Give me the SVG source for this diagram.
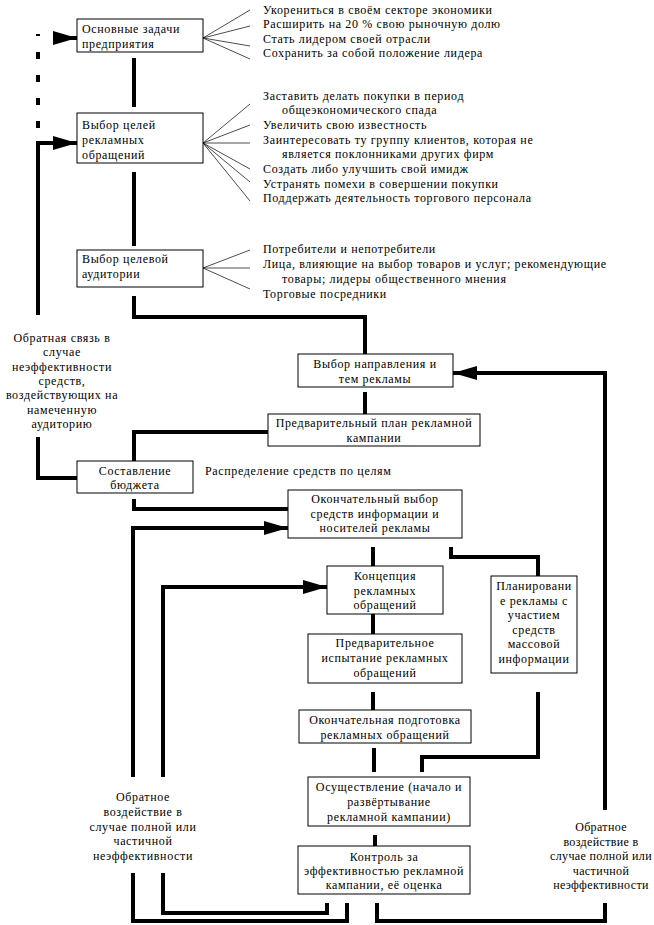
<svg xmlns="http://www.w3.org/2000/svg" width="654" height="925" viewBox="0 0 654 925">
<style>
  text { font-family: "Liberation Serif", "Times New Roman", serif; font-size: 12px; letter-spacing: 0.65px; fill: #000; }
  .c { text-anchor: middle; }
  .tight { letter-spacing: 0.35px; }
  .box { fill: #fff; stroke: #000; stroke-width: 1; }
  .conn { fill: none; stroke: #000; stroke-width: 4; stroke-linejoin: miter; stroke-linecap: butt; }
  .fan { fill: none; stroke: #000; stroke-width: 0.7; }
</style>
<defs>
  <marker id="arr" markerUnits="userSpaceOnUse" markerWidth="24" markerHeight="14" refX="24" refY="7" orient="auto">
    <path d="M0,0 L24,7 L0,14 z" fill="#000"/>
  </marker>
</defs>
<rect width="654" height="925" fill="#fff"/>

<g id="connectors">
  <path class="conn" d="M38,128 V34" stroke-dasharray="7 16" stroke-width="5"/>
  <path class="conn" d="M53,38 H77" marker-end="url(#arr)"/>
  <path class="conn" d="M134,58 V107"/>
  <path class="conn" d="M134,172 V246"/>
  <path class="conn" d="M134,296 V317 H365 V354"/>
  <path class="conn" d="M38,315 V143 H77" marker-end="url(#arr)"/>
  <path class="conn" d="M77,478 H38 V437"/>
  <path class="conn" d="M365,392 V414"/>
  <path class="conn" d="M268,432 H134 V461"/>
  <path class="conn" d="M134,499 V509 H288"/>
  <path class="conn" d="M133,777 V528 H288" marker-end="url(#arr)"/>
  <path class="conn" d="M163,777 V587 H327" marker-end="url(#arr)"/>
  <path class="conn" d="M373,547 V566"/>
  <path class="conn" d="M451,547 V557 H538 V576"/>
  <path class="conn" d="M373,614 V634"/>
  <path class="conn" d="M373,692 V710"/>
  <path class="conn" d="M374,748 V772"/>
  <path class="conn" d="M538,692 V757 H422 V772"/>
  <path class="conn" d="M375,835 V847"/>
  <path class="conn" d="M163,873 V913 H327 V903"/>
  <path class="conn" d="M133,873 V921 H347 V903"/>
  <path class="conn" d="M377,903 V921 H605 V903"/>
  <path class="conn" d="M605,810 V373 H453" marker-end="url(#arr)"/>
</g>

<g id="fan1">
  <path class="fan" d="M203,38 L250,10 M203,38 L250,26 M203,38 L250,46 M203,38 L250,59"/>
  <text x="263" y="14">Укорениться в своём секторе экономики</text>
  <text x="263" y="28">Расширить на 20 % свою рыночную долю</text>
  <text x="263" y="43">Стать лидером своей отрасли</text>
  <text x="263" y="57">Сохранить за собой положение лидера</text>
</g>
<g id="fan2">
  <path class="fan" d="M203,143 L250,104 M203,143 L250,125 M203,143 L250,143 M203,143 L250,169 M203,143 L250,182 M203,143 L250,201"/>
  <text x="263" y="100">Заставить делать покупки в период</text>
  <text x="282" y="114">общеэкономического спада</text>
  <text x="263" y="129">Увеличить свою известность</text>
  <text x="263" y="144">Заинтересовать ту группу клиентов, которая не</text>
  <text x="282" y="158">является поклонниками других фирм</text>
  <text x="263" y="173">Создать либо улучшить свой имидж</text>
  <text x="263" y="188">Устранять помехи в совершении покупки</text>
  <text x="263" y="202">Поддержать деятельность торгового персонала</text>
</g>
<g id="fan3">
  <path class="fan" d="M203,268 L250,250 M203,268 L250,268 M203,268 L250,289"/>
  <text x="263" y="253">Потребители и непотребители</text>
  <text x="263" y="268">Лица, влияющие на выбор товаров и услуг; рекомендующие</text>
  <text x="282" y="283">товары; лидеры общественного мнения</text>
  <text x="263" y="298">Торговые посредники</text>
</g>

<g id="n1">
  <rect class="box" x="77" y="19" width="126" height="33"/>
  <text x="82" y="33">Основные задачи</text>
  <text x="82" y="48">предприятия</text>
</g>
<g id="n2">
  <rect class="box" x="77" y="113" width="126" height="50"/>
  <text x="82" y="129">Выбор целей</text>
  <text x="82" y="144">рекламных</text>
  <text x="82" y="159">обращений</text>
</g>
<g id="n3">
  <rect class="box" x="77" y="250" width="126" height="37"/>
  <text x="82" y="263">Выбор целевой</text>
  <text x="82" y="278">аудитории</text>
</g>
<g id="n4">
  <rect class="box" x="298" y="354" width="155" height="33"/>
  <text class="c" x="375" y="368">Выбор направления и</text>
  <text class="c" x="375" y="383">тем рекламы</text>
</g>
<g id="n5">
  <rect class="box" x="268" y="414" width="212" height="32"/>
  <text class="c" x="374" y="427">Предварительный план рекламной</text>
  <text class="c" x="374" y="442">кампании</text>
</g>
<g id="n6">
  <rect class="box" x="77" y="461" width="116" height="32"/>
  <text class="c" x="135" y="475">Составление</text>
  <text class="c" x="135" y="489">бюджета</text>
</g>
<g id="lbl-distr">
  <text x="205" y="475">Распределение средств по целям</text>
</g>
<g id="n7">
  <rect class="box" x="288" y="490" width="174" height="48"/>
  <text class="c" x="375" y="503">Окончательный выбор</text>
  <text class="c" x="375" y="518">средств информации и</text>
  <text class="c" x="375" y="532">носителей рекламы</text>
</g>
<g id="n8">
  <rect class="box" x="327" y="566" width="116" height="48"/>
  <text class="c" x="385" y="580">Концепция</text>
  <text class="c" x="385" y="595">рекламных</text>
  <text class="c" x="385" y="609">обращений</text>
</g>
<g id="n9">
  <rect class="box" x="491" y="576" width="86" height="97"/>
  <text class="c" x="534" y="590">Планировани</text>
  <text class="c" x="534" y="605">е рекламы с</text>
  <text class="c" x="534" y="619">участием</text>
  <text class="c" x="534" y="634">средств</text>
  <text class="c" x="534" y="648">массовой</text>
  <text class="c" x="534" y="663">информации</text>
</g>
<g id="n10">
  <rect class="box" x="308" y="634" width="154" height="49"/>
  <text class="c" x="385" y="647">Предварительное</text>
  <text class="c" x="385" y="662">испытание рекламных</text>
  <text class="c" x="385" y="677">обращений</text>
</g>
<g id="n11">
  <rect class="box" x="299" y="710" width="172" height="33"/>
  <text class="c" x="385" y="724">Окончательная подготовка</text>
  <text class="c" x="385" y="739">рекламных обращений</text>
</g>
<g id="n12">
  <rect class="box" x="308" y="777" width="162" height="49"/>
  <text class="c" x="389" y="791">Осуществление (начало и</text>
  <text class="c" x="389" y="806">развёртывание</text>
  <text class="c" x="389" y="821">рекламной кампании)</text>
</g>
<g id="n13">
  <rect class="box" x="298" y="846" width="172" height="48"/>
  <text class="c" x="384" y="861">Контроль за</text>
  <text class="c" x="384" y="875">эффективностью рекламной</text>
  <text class="c" x="384" y="889">кампании, её оценка</text>
</g>

<g id="lbl-left-top">
  <text class="c" x="62" y="342">Обратная связь в</text>
  <text class="c" x="62" y="356">случае</text>
  <text class="c" x="62" y="371">неэффективности</text>
  <text class="c" x="62" y="385">средств,</text>
  <text class="c" x="62" y="399">воздействующих на</text>
  <text class="c" x="62" y="414">намеченную</text>
  <text class="c" x="62" y="428">аудиторию</text>
</g>
<g id="lbl-left-bottom">
  <text class="c" x="143" y="801">Обратное</text>
  <text class="c" x="143" y="816">воздействие в</text>
  <text class="c" x="143" y="831">случае полной или</text>
  <text class="c" x="143" y="845">частичной</text>
  <text class="c" x="143" y="860">неэффективности</text>
</g>
<g id="lbl-right-bottom">
  <text class="c tight" x="601" y="831">Обратное</text>
  <text class="c tight" x="601" y="846">воздействие в</text>
  <text class="c tight" x="601" y="860">случае полной или</text>
  <text class="c tight" x="601" y="875">частичной</text>
  <text class="c tight" x="601" y="889">неэффективности</text>
</g>
</svg>
